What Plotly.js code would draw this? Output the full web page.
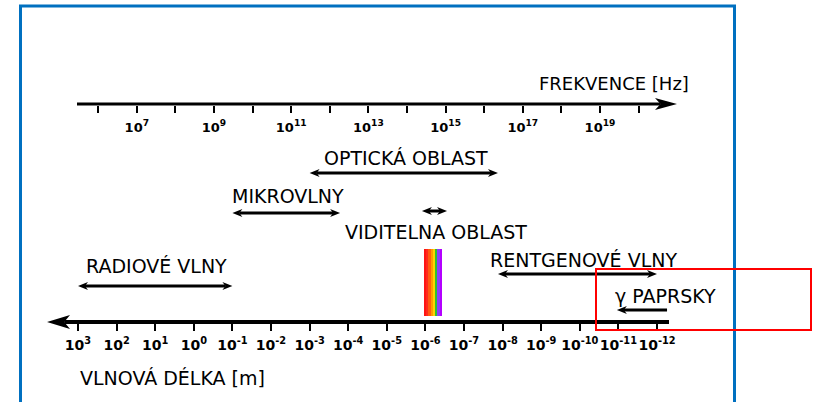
<!DOCTYPE html>
<html><head><meta charset="utf-8">
<script src="https://cdn.plot.ly/plotly-3.0.1.min.js"></script>
<style>body{margin:0;background:#fff}#chart{width:813px;height:402px}</style>
</head><body><div id="chart"></div>
<script>
// ---- data ----
const wavelengthExp = [3, 2, 1, 0, -1, -2, -3, -4, -5, -6, -7, -8, -9, -10, -11, -12];
const wavelengthLabels = ['10<sup>3</sup>','10<sup>2</sup>','10<sup>1</sup>','10<sup>0</sup>','10<sup>-1</sup>','10<sup>-2</sup>','10<sup>-3</sup>','10<sup>-4</sup>','10<sup>-5</sup>','10<sup>-6</sup>','10<sup>-7</sup>','10<sup>-8</sup>','10<sup>-9</sup>','10<sup>-10</sup>','10<sup>-11</sup>','10<sup>-12</sup>'];
const frequencyLabelExp = [7, 9, 11, 13, 15, 17, 19];
const frequencyLabels = ['10<sup>7</sup>','10<sup>9</sup>','10<sup>11</sup>','10<sup>13</sup>','10<sup>15</sup>','10<sup>17</sup>','10<sup>19</sup>'];
const frequencyMinorExp = [6, 8, 10, 12, 14, 16, 18, 20];
const bandNames = ['RADIOVÉ VLNY','MIKROVLNY','OPTICKÁ OBLAST','VIDITELNA OBLAST','RENTGENOVÉ VLNY','γ PAPRSKY'];
const bandFromExp = [3, -1, -3, -5.91, -7.88, -12.26];   // log10 wavelength [m]
const bandToExp   = [-1, -3.79, -7.88, -6.56, -12, -10.96];
const bandTwoHeaded = [true, true, true, true, true, false];
const spectrumColors = ['#ff1414','#ff2a1a','#ff5a10','#ff9a00','#ffd200','#30c030','#8a3cff','#b400ff'];
const spectrumFromExp = -5.96, spectrumToExp = -6.43;

// ---- layout helpers ----
const W = 813, H = 402;
const LOG_C = Math.log10(299792458);
const PXU = 38.6;                         // pixels per decade
const X0 = -3 - 78 / PXU, X1 = X0 + W / PXU;   // 10^3 m sits at pixel 78
const xFromPx = p => X0 + p / PXU;
const pxFromX = x => (x - X0) * PXU;
const yFromPx = p => H - p;
const pxX = p => p / W, pxY = p => 1 - p / H;

const FONT = 'DejaVu Sans';
const bandRowY = [286, 213, 173, 211, 274, 310];
const labelPos = [[156,266],[288,196],[406,158],[436,232],[583,260],[665,296]];

// spectrum bars
const nS = spectrumColors.length;
const sx0 = -spectrumFromExp, sx1 = -spectrumToExp, sw = (sx1 - sx0) / nS;
const spectrum = {
  type: 'bar', x: spectrumColors.map((c,i) => sx0 + sw*(i+0.5)), y: spectrumColors.map(() => 67),
  base: spectrumColors.map(() => yFromPx(316)), width: spectrumColors.map(() => sw),
  marker: {color: spectrumColors, line: {width: 0}}, hoverinfo: 'skip', showlegend: false
};
const dummy2 = {type:'scatter', x:[frequencyLabelExp[0]], y:[-10], xaxis:'x2', mode:'markers', marker:{opacity:0}, hoverinfo:'skip', showlegend:false};

// arrow drawing in data coordinates (pixel sizes converted through the axes scale)
const shapes = [];
function headPath(tipPx, yPx, dir, L, h, notch) {
  const p = (dx, dy) => xFromPx(tipPx + dir*dx) + ',' + yFromPx(yPx + dy);
  return 'M' + p(0,0) + 'L' + p(L,-h) + 'L' + p(L*notch,0) + 'L' + p(L,h) + 'Z';
}
function arrow(xa, xb, yPx, width, L, h, notch, heads) {
  const pa = pxFromX(xa), pb = pxFromX(xb), dir = pb > pa ? 1 : -1;
  const la = heads === 'ab' ? pa + dir*L*notch : pa;
  const lb = pb - dir*L*notch;
  shapes.push({type:'line', xref:'x', yref:'y', x0:xFromPx(la), x1:xFromPx(lb), y0:yFromPx(yPx), y1:yFromPx(yPx),
    line:{color:'#000', width:width}});
  shapes.push({type:'path', xref:'x', yref:'y', path: headPath(pb, yPx, -dir, L, h, notch), fillcolor:'#000', line:{width:0}});
  if (heads === 'ab')
    shapes.push({type:'path', xref:'x', yref:'y', path: headPath(pa, yPx, dir, L, h, notch), fillcolor:'#000', line:{width:0}});
}
// axis lines
arrow(xFromPx(669), xFromPx(47), 322, 4, 23, 7, 0.75, 'b');
arrow(xFromPx(77), xFromPx(677), 104, 3, 22, 6, 0.75, 'b');
// band arrows
bandNames.forEach((n, i) => {
  arrow(-bandFromExp[i], -bandToExp[i], bandRowY[i], 3, 10, 4, 0.7, bandTwoHeaded[i] ? 'ab' : 'b');
});

const annotations = bandNames.map((n, i) => ({x: pxX(labelPos[i][0]), y: pxY(labelPos[i][1]), xref:'paper', yref:'paper',
  text: n, showarrow:false, xanchor:'center', yanchor:'middle', font:{family:FONT, size:19, color:'#000'}}));
annotations.push({x: pxX(537), y: pxY(84), xref:'paper', yref:'paper', text:'FREKVENCE [Hz]', showarrow:false,
  xanchor:'left', yanchor:'middle', font:{family:FONT, size:18, color:'#000'}});
annotations.push({x: pxX(78), y: pxY(378), xref:'paper', yref:'paper', text:'VLNOVÁ DÉLKA [m]', showarrow:false,
  xanchor:'left', yanchor:'middle', font:{family:FONT, size:19, color:'#000'}});

const tickStyle = {ticks:'outside', ticklen:7, tickwidth:2, tickcolor:'#000', showgrid:false, zeroline:false, showline:false,
  tickmode:'array', tickangle:0, fixedrange:true};

shapes.push({type:'rect', xref:'paper', yref:'paper', x0:pxX(20.5), x1:pxX(734.5), y0:pxY(430), y1:pxY(6), line:{color:'#0070c0', width:3}});
shapes.push({type:'rect', xref:'paper', yref:'paper', x0:pxX(596), x1:pxX(811), y0:pxY(330), y1:pxY(269), line:{color:'#ff0000', width:2}});

const layout = {
  width: W, height: H, margin:{l:0, r:0, t:0, b:0}, paper_bgcolor:'#fff', plot_bgcolor:'rgba(0,0,0,0)',
  showlegend:false, bargap:0,
  xaxis: Object.assign({}, tickStyle, {range:[X0, X1], domain:[0,1], anchor:'free', position: 1 - 323/H,
    tickvals: wavelengthExp.map(e => -e), ticktext: wavelengthLabels, ticklabelstandoff: 2,
    tickfont:{family:FONT, size:14, color:'#000', weight:'bold'}}),
  xaxis2: Object.assign({}, tickStyle, {range:[X0 + LOG_C, X1 + LOG_C], overlaying:'x', side:'bottom', anchor:'free',
    position: 1 - 105/H, tickvals: frequencyLabelExp, ticktext: frequencyLabels, ticklabelstandoff: 3,
    tickfont:{family:FONT, size:13, color:'#000', weight:'bold'},
    minor:{tickvals: frequencyMinorExp, ticks:'outside', ticklen:7, tickwidth:2, tickcolor:'#000', showgrid:false}}),
  yaxis: {range:[0, H], visible:false, fixedrange:true},
  shapes: shapes,
  annotations: annotations
};
Plotly.newPlot('chart', [spectrum, dummy2], layout, {staticPlot:true, displayModeBar:false});
</script></body></html>
